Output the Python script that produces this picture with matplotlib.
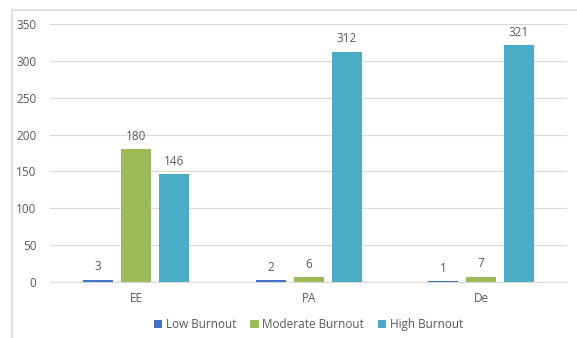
import matplotlib
matplotlib.use("Agg")
import matplotlib.pyplot as plt
from matplotlib.patches import Rectangle
import numpy as np

categories = ["EE", "PA", "De"]
series_names = ["Low Burnout", "Moderate Burnout", "High Burnout"]
low_burnout = [3, 2, 1]
moderate_burnout = [180, 6, 7]
high_burnout = [146, 312, 321]
y_ticks = [0, 50, 100, 150, 200, 250, 300, 350]

colors = ["#4472C4", "#9BBB59", "#4BACC6"]
text_color = "#595959"
grid_color = "#d9d9d9"

plt.rcParams["font.family"] = ["Open Sans", "DejaVu Sans"]

fig = plt.figure(figsize=(5.77, 3.38), dpi=100)
ax = fig.add_axes([0.087, 0.166, 0.896, 0.763])

# chart frame
fig.patches.append(Rectangle((12 / 577, -0.05), 1.0, 1 - 10 / 338 + 0.05,
                             transform=fig.transFigure, fill=False,
                             edgecolor=grid_color, linewidth=1.2))

x = np.arange(len(categories))
width = 0.174
offset = 0.221
all_series = [low_burnout, moderate_burnout, high_burnout]
for i, (vals, name) in enumerate(zip(all_series, series_names)):
    bars = ax.bar(x + (i - 1) * offset, vals, width, color=colors[i],
                  edgecolor="none", label=name, zorder=3)
    for b, v in zip(bars, vals):
        ax.text(b.get_x() + b.get_width() / 2, v + 9, str(v),
                ha="center", va="bottom", fontsize=8.5, color=text_color)

ax.set_xlim(-0.5, 2.5)
ax.set_ylim(0, 350)
ax.set_yticks(y_ticks)
ax.set_xticks(x)
ax.set_xticklabels(categories)
ax.tick_params(axis="both", length=0, labelsize=8.5, colors=text_color)
ax.tick_params(axis="y", pad=10)
ax.tick_params(axis="x", pad=7)
ax.grid(axis="y", color=grid_color, linewidth=0.8, zorder=0)
for side in ["top", "right", "left"]:
    ax.spines[side].set_visible(False)
ax.spines["bottom"].set_color(grid_color)

ax.legend(loc="center", bbox_to_anchor=(0.5, -0.165), ncol=3, frameon=False,
          fontsize=8.5, labelcolor=text_color, handlelength=0.7,
          handleheight=0.7, handletextpad=0.3, columnspacing=1.2)

plt.savefig("out.png", dpi=100)
